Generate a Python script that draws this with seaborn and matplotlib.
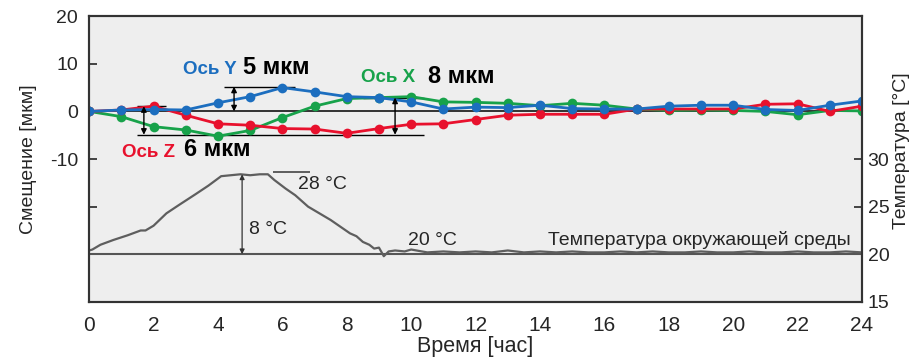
import pandas as pd
import seaborn as sns
import matplotlib.pyplot as plt
from matplotlib import font_manager

hours = list(range(25))
axis_y = [0, 0.3, 0.4, 0.3, 1.8, 3.1, 5.0, 4.1, 3.1, 2.9, 2.0, 0.5, 0.9,
          0.8, 1.3, 0.6, 0.5, 0.5, 1.1, 1.3, 1.3, 0.4, 0.2, 1.3, 2.2]
axis_x = [0, -1.1, -3.2, -3.9, -5.2, -4.0, -1.3, 1.1, 2.7, 2.9, 3.1, 2.0, 1.9,
          1.7, 1.2, 1.7, 1.3, 0.5, 0.2, 0.3, 0.2, 0.0, -0.7, 0.2, 0.1]
axis_z = [0, 0.3, 1.1, -0.8, -2.6, -2.9, -3.6, -3.7, -4.6, -3.6, -2.7, -2.6, -1.7,
          -0.8, -0.6, -0.6, -0.6, 0.5, 0.5, 0.5, 0.5, 1.5, 1.6, 0.0, 1.1]

temp_hours = [0, 0.1, 0.35, 0.75, 1.2, 1.6, 1.75, 2.0, 2.4, 2.8, 3.3, 3.7, 4.1,
              4.4, 4.7, 5.0, 5.3, 5.55, 5.75, 6.1, 6.4, 6.8, 7.1, 7.5, 7.8, 8.1,
              8.3, 8.5, 8.7, 8.85, 9.0, 9.15, 9.3, 9.5, 9.8, 10.0, 10.5, 11.0,
              11.5, 12.0, 12.5, 13.0, 13.5, 14.0, 14.5, 15.0, 15.5, 16.0, 16.5,
              17.0, 17.5, 18.0, 18.5, 19.0, 19.5, 20.0, 20.5, 21.0, 21.5, 22.0,
              22.5, 23.0, 23.5, 24.0]
temp_vals = [20.4, 20.5, 21.0, 21.5, 22.0, 22.5, 22.5, 23.0, 24.3, 25.2, 26.3,
             27.2, 28.2, 28.3, 28.4, 28.3, 28.4, 28.4, 27.8, 26.9, 26.2, 25.0,
             24.4, 23.6, 22.9, 22.2, 21.9, 21.3, 21.0, 20.6, 20.7, 19.8, 20.3,
             20.4, 20.3, 20.5, 20.2, 20.3, 20.2, 20.3, 20.2, 20.4, 20.2, 20.3,
             20.2, 20.3, 20.2, 20.2, 20.3, 20.2, 20.3, 20.2, 20.2, 20.3, 20.2,
             20.2, 20.3, 20.2, 20.2, 20.3, 20.2, 20.2, 20.3, 20.2]

disp = pd.DataFrame({
    "hour": hours * 3,
    "value": axis_x + axis_z + axis_y,
    "axis": ["X"] * 25 + ["Z"] * 25 + ["Y"] * 25,
})
temp = pd.DataFrame({"hour": temp_hours, "temp": temp_vals})

sns.set_theme(style="ticks")
plt.rcParams["font.family"] = ["Liberation Sans", "DejaVu Sans"]

# narrow face for the time axis, if there is one
names = {f.name for f in font_manager.fontManager.ttflist}
narrow = "Liberation Sans Narrow" if "Liberation Sans Narrow" in names else "Liberation Sans"

fig, ax = plt.subplots(figsize=(9.19, 3.59), dpi=100)
fig.subplots_adjust(left=0.097, right=0.938, bottom=0.159, top=0.955)
ax.set_facecolor("#eeeeee")

palette = {"X": "#17a24a", "Z": "#e8112d", "Y": "#1c6ebf"}
ax.axhline(0, color="black", lw=1.1, zorder=1)
sns.lineplot(data=disp, x="hour", y="value", hue="axis", palette=palette,
             marker="o", markersize=7, markeredgewidth=0, lw=2, legend=False,
             ax=ax, zorder=3)

# measurement brackets
ax.hlines([1.1, 5.2, 2.9], [1.5, 4.2, 8.5], [2.4, 6.4, 10.4], color="black", lw=1)
ax.hlines(-4.9, 1.5, 10.4, color="black", lw=1)
for xx, y0, y1 in [(4.5, 0, 5.2), (1.7, 1.1, -4.9), (9.5, 2.9, -4.9)]:
    ax.annotate("", xy=(xx, y1), xytext=(xx, y0),
                arrowprops=dict(arrowstyle="<|-|>", color="black", lw=1,
                                mutation_scale=8, shrinkA=0, shrinkB=0))

ax.text(2.92, 8.8, "Ось Y", color=palette["Y"], fontsize=13.5, fontweight="bold", va="center")
ax.text(4.78, 9.3, "5 мкм", color="black", fontsize=17, fontweight="bold", va="center")
ax.text(8.45, 7.2, "Ось X", color=palette["X"], fontsize=13.5, fontweight="bold", va="center")
ax.text(10.53, 7.4, "8 мкм", color="black", fontsize=17, fontweight="bold", va="center")
ax.text(1.02, -8.6, "Ось Z", color=palette["Z"], fontsize=13.5, fontweight="bold", va="center")
ax.text(2.95, -8.1, "6 мкм", color="black", fontsize=17, fontweight="bold", va="center")

ax.set_xlim(0, 24)
ax.set_ylim(-40, 20)
ax.set_xticks(range(0, 25, 2))
ax.set_xticklabels([str(h) for h in range(0, 25, 2)], family=narrow, fontsize=15)
ax.set_yticks([20, 10, 0, -10, -20, -30])
ax.set_yticklabels(["20", "10", "0", "-10", "", ""])
ax.set_xlabel("Время [час]", family=narrow, fontsize=15.5, labelpad=1)
ax.set_ylabel("Смещение [мкм]", fontsize=14, labelpad=9)
ax.tick_params(axis="y", direction="in", length=6, width=1.2, labelsize=14, pad=8)
ax.tick_params(axis="x", length=0, pad=10)

ax2 = ax.twinx()
ax2.axhline(20, color="#555555", lw=1.5, zorder=1)
sns.lineplot(data=temp, x="hour", y="temp", color="#5e5e5e", lw=1.6, ax=ax2)
ax2.set_ylim(15, 45)
ax2.set_yticks([15, 20, 25, 30])
ax2.set_ylabel("Температура [°C]", fontsize=14)
ax2.yaxis.set_label_coords(1.04, 0.53)
ax2.set_xlabel("")
ax2.tick_params(axis="y", direction="in", length=6, width=1.2, labelsize=14, pad=4)
ax2.hlines(28.6, 5.7, 6.85, color="#444444", lw=1.2)
ax2.annotate("", xy=(4.75, 28.4), xytext=(4.75, 20),
             arrowprops=dict(arrowstyle="<|-|>", color="#333333", lw=0.9,
                             mutation_scale=7, shrinkA=0, shrinkB=0))
ax2.text(4.97, 22.6, "8 °C", fontsize=14, va="center")
ax2.text(6.5, 27.3, "28 °C", fontsize=14, va="center")
ax2.text(9.9, 21.4, "20 °C", fontsize=14, va="center")
ax2.text(23.65, 21.5, "Температура окружающей среды", fontsize=14, va="center", ha="right")

for a in (ax, ax2):
    for s in a.spines.values():
        s.set_color("#333333")
        s.set_linewidth(1.5)
        s.set_visible(True)

fig.savefig("out.png", dpi=100, facecolor="white")
